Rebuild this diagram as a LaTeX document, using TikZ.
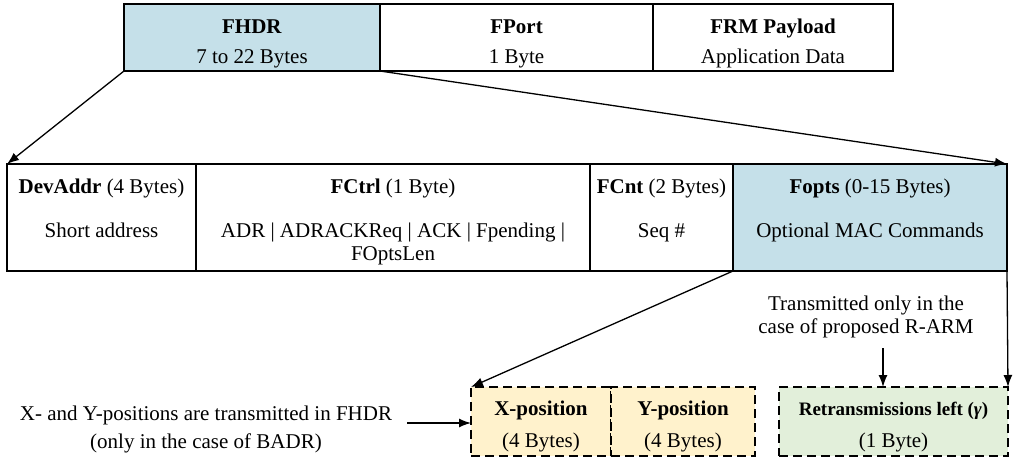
\documentclass[tikz,border=0pt]{standalone}
\usepackage{fontspec}
\setmainfont{Liberation Serif}
\usetikzlibrary{arrows.meta}
\definecolor{hdrblue}{RGB}{197,224,233}
\definecolor{posyellow}{RGB}{255,242,204}
\definecolor{retxgreen}{RGB}{226,239,218}

\begin{document}
\begin{tikzpicture}[x=1pt,y=-1pt,
  fieldbox/.style={draw, line width=1.4pt, inner sep=0pt, outer sep=0pt, minimum height=#1},
  optbox/.style={draw, line width=1.9pt, dash pattern=on 9pt off 5pt, inner sep=0pt, outer sep=0pt, minimum height=69pt},
  txt/.style={inner sep=0pt, anchor=base, font=\fontsize{21}{25}\selectfont},
  smalltxt/.style={txt, font=\fontsize{19}{23}\selectfont},
  conn/.style={line width=1.3pt, -{Latex[length=12pt,width=9pt]}}]

\useasboundingbox (0,0) rectangle (1013,461);

% MAC payload: FHDR | FPort | FRM Payload
\node[fieldbox=67pt, fill=hdrblue, minimum width=256pt] (fhdr)  at (252,37.5) {};
\node[fieldbox=67pt, minimum width=273pt] (fport) at (516.5,37.5) {};
\node[fieldbox=67pt, minimum width=240pt] (frm)   at (773,37.5) {};
\node[txt] (fhdr-a)  at (252,33) {\textbf{FHDR}};
\node[txt] (fhdr-b)  at (252,63) {7 to 22 Bytes};
\node[txt] (fport-a) at (516.5,33) {\textbf{FPort}};
\node[txt] (fport-b) at (516.5,63) {1 Byte};
\node[txt] (frm-a)   at (773,33) {\textbf{FRM Payload}};
\node[txt] (frm-b)   at (773,63) {Application Data};

% Frame header fields
\node[fieldbox=107pt, minimum width=189pt] (devaddr) at (101.5,217.5) {};
\node[fieldbox=107pt, minimum width=394pt] (fctrl)   at (393,217.5) {};
\node[fieldbox=107pt, minimum width=143pt] (fcnt)    at (661.5,217.5) {};
\node[fieldbox=107pt, fill=hdrblue, minimum width=274pt] (fopts) at (870,217.5) {};
\node[txt] (dev-a) at (101.5,193) {\textbf{DevAddr} (4 Bytes)};
\node[txt] (dev-b) at (101.5,237) {Short address};
\node[txt] (ctl-a) at (393,193) {\textbf{FCtrl} (1 Byte)};
\node[txt] (ctl-b) at (393,237) {ADR | ADRACKReq | ACK | Fpending |};
\node[txt] (ctl-c) at (393,260) {FOptsLen};
\node[txt] (cnt-a) at (661.5,193) {\textbf{FCnt} (2 Bytes)};
\node[txt] (cnt-b) at (661.5,237) {Seq \#};
\node[txt] (opt-a) at (870,193) {\textbf{Fopts} (0-15 Bytes)};
\node[txt] (opt-b) at (870,237) {Optional MAC Commands};

% Optional fields
\node[optbox, fill=posyellow, minimum width=140pt] (xpos) at (541,421.5) {};
\node[optbox, fill=posyellow, minimum width=144pt] (ypos) at (683,421.5) {};
\node[optbox, fill=retxgreen, minimum width=229pt] (retx) at (893.5,421.5) {};
\node[txt] (xpos-a) at (541,415) {\textbf{X-position}};
\node[txt] (xpos-b) at (541,447) {(4 Bytes)};
\node[txt] (ypos-a) at (683,415) {\textbf{Y-position}};
\node[txt] (ypos-b) at (683,447) {(4 Bytes)};
\node[smalltxt] (retx-a) at (893.5,415) {\textbf{Retransmissions left (\textit{γ})}};
\node[txt] (retx-b) at (893.5,447) {(1 Byte)};

% Annotations
\node[txt] (note1-a) at (866,310) {Transmitted only in the};
\node[txt] (note1-b) at (866,333) {case of proposed R-ARM};
\node[txt] (note2-a) at (206,420) {X- and Y-positions are transmitted in FHDR};
\node[txt] (note2-b) at (206,448) {(only in the case of BADR)};
\coordinate (note1-tip) at (883,348);
\coordinate (note2-tip) at (407,423);

% Connectors
\draw[conn] (fhdr.south west) -- (devaddr.north west);
\draw[conn] (fhdr.south east) -- (fopts.north east);
\draw[conn] (fopts.south west) -- (xpos.north west);
\draw[conn] (fopts.south east) -- (retx.north east);
\draw[conn] (note1-tip) -- (note1-tip |- retx.north);
\draw[conn] (note2-tip) -- (note2-tip -| xpos.west);
\end{tikzpicture}
\end{document}
